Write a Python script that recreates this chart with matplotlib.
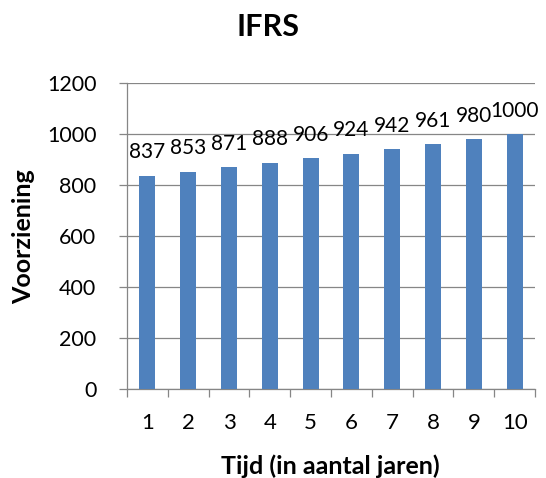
import matplotlib
matplotlib.use("Agg")
import matplotlib.pyplot as plt
from matplotlib.ticker import FixedLocator, NullFormatter

years = [1, 2, 3, 4, 5, 6, 7, 8, 9, 10]
provision = [837, 853, 871, 888, 906, 924, 942, 961, 980, 1000]
y_ticks = [0, 200, 400, 600, 800, 1000, 1200]

plt.rcParams['font.family'] = ['Lato', 'DejaVu Sans']

fig = plt.figure(figsize=(5.46, 4.78), dpi=100)
ax = fig.add_axes([0.2326, 0.186, 0.7474, 0.640])

axis_grey = '#868686'
bar_blue = '#4F81BD'

x = list(range(len(years)))
ax.bar(x, provision, width=0.39, color=bar_blue, zorder=3)
for xi, v in zip(x, provision):
    ax.annotate(str(v), xy=(xi, v), xytext=(0, 12.5), textcoords='offset points',
                ha='center', va='baseline', fontsize=15, zorder=4)

ax.set_xlim(-0.5, len(years) - 0.5)
ax.set_ylim(0, 1200)
ax.set_yticks(y_ticks)
ax.set_yticklabels([str(t) for t in y_ticks], fontsize=15.5)
ax.yaxis.grid(True, color=axis_grey, linewidth=0.9, zorder=0)

# category labels centred, tick marks at category boundaries
ax.set_xticks(x)
ax.set_xticklabels([str(y) for y in years], fontsize=16)
ax.tick_params(axis='x', which='major', length=0, pad=17)
ax.xaxis.set_minor_locator(FixedLocator([i - 0.5 for i in range(len(years) + 1)]))
ax.xaxis.set_minor_formatter(NullFormatter())
ax.tick_params(axis='x', which='minor', length=6, color=axis_grey, width=0.9)
ax.tick_params(axis='y', length=6, color=axis_grey, width=0.9, pad=16)

for side in ['top', 'right']:
    ax.spines[side].set_visible(False)
for side in ['left', 'bottom']:
    ax.spines[side].set_color(axis_grey)
    ax.spines[side].set_linewidth(0.9)
ax.set_axisbelow(True)

ax.set_ylabel('Voorziening', fontsize=18, fontweight='bold')
ax.yaxis.set_label_coords(-0.225, 0.5)
ax.set_xlabel('Tijd (in aantal jaren)', fontsize=18, fontweight='bold')
ax.xaxis.set_label_coords(0.4975, -0.212)
fig.text(0.491, 0.944, 'IFRS', ha='center', va='center', fontsize=22, fontweight='bold')

fig.savefig('out.png', dpi=100)
